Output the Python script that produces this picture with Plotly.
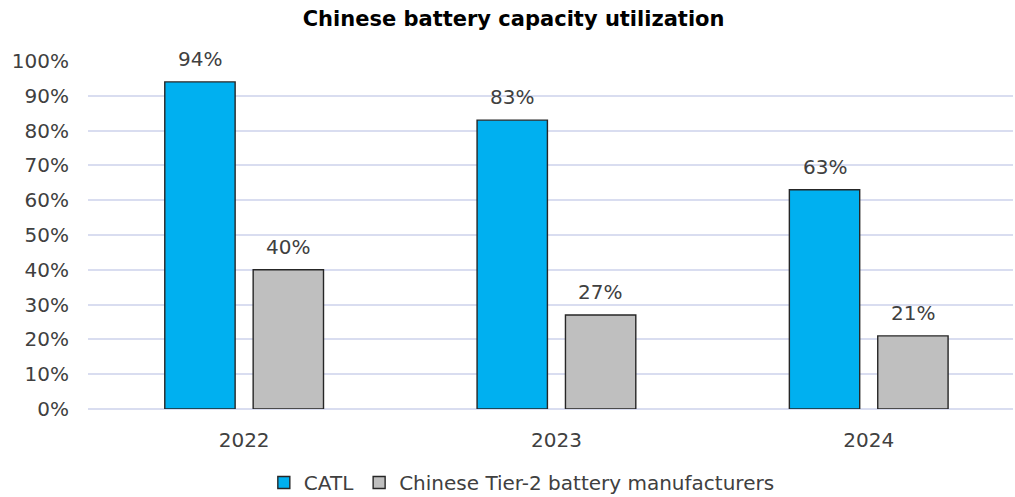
import plotly.graph_objects as go

years = ["2022", "2023", "2024"]
catl = [0.94, 0.83, 0.63]
tier2 = [0.40, 0.27, 0.21]
y_ticks = [0, 0.1, 0.2, 0.3, 0.4, 0.5, 0.6, 0.7, 0.8, 0.9, 1.0]
y_tick_labels = ["0%", "10%", "20%", "30%", "40%", "50%", "60%", "70%", "80%", "90%", "100%"]

FONT = "DejaVu Sans"
TXT = "#404040"

fig = go.Figure()
fig.add_trace(go.Bar(
    x=years, y=catl, name="CATL",
    marker=dict(color="#00B0F0", line=dict(color="#262626", width=1.4)),
))
fig.add_trace(go.Bar(
    x=years, y=tier2, name="Chinese Tier-2 battery manufacturers",
    marker=dict(color="#BFBFBF", line=dict(color="#262626", width=1.4)),
))

# value labels above bars (category index used as x position)
for vals, dx in ((catl, -44), (tier2, 44)):
    for i, v in enumerate(vals):
        fig.add_annotation(
            x=i, y=v, xref="x", yref="y", text=f"{round(v*100)}%",
            showarrow=False, xshift=dx, yshift=23, yanchor="middle",
            font=dict(family=FONT, size=20, color=TXT),
        )

fig.update_layout(
    width=1015, height=497,
    margin=dict(l=88, r=2, t=61, b=88, autoexpand=False),
    paper_bgcolor="white", plot_bgcolor="white",
    barmode="group", bargap=0.434, bargroupgap=0.204,
    font=dict(family=FONT, size=20, color=TXT),
    title=dict(text="<b>Chinese battery capacity utilization</b>", x=0.506, xref="container",
               y=0.963, yanchor="middle", xanchor="center",
               font=dict(family=FONT, size=21, color="#000000")),
    legend=dict(orientation="h", x=0.469, xanchor="center", y=-0.211, yanchor="middle",
                font=dict(family=FONT, size=20, color=TXT),
                itemwidth=30, tracegroupgap=0, traceorder="normal"),
)
fig.update_xaxes(
    type="category", range=[-0.5, 2.462], showgrid=False, showline=False,
    ticks="", automargin=False, ticklabelstandoff=17,
    tickfont=dict(family=FONT, size=20, color=TXT),
)
fig.update_yaxes(
    range=[0, 1.0], tickvals=y_ticks, ticktext=y_tick_labels,
    showgrid=True, gridcolor="#D9DDF0", gridwidth=1.5,
    zeroline=True, zerolinecolor="#D9DDF0", zerolinewidth=1.5,
    showline=False, ticks="", ticklabelstandoff=18, automargin=False,
    tickfont=dict(family=FONT, size=20, color=TXT),
)

fig.write_html("out.html", config={"displayModeBar": False},
               post_script="document.body.style.margin='0';")
